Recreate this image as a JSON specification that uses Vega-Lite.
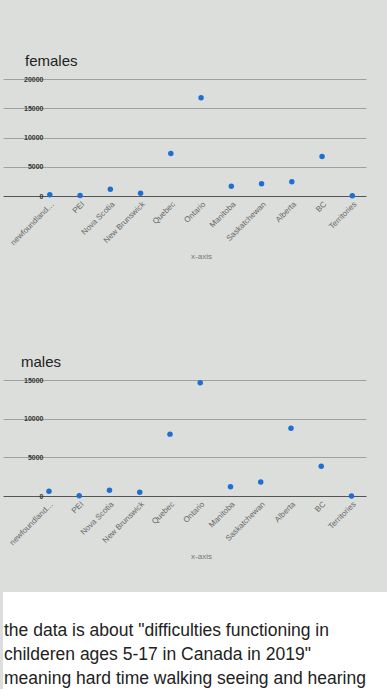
{
  "$schema": "https://vega.github.io/schema/vega-lite/v6.json",
  "background": "#dcdedb",
  "padding": {"left": 3, "top": 54, "right": 0, "bottom": 0},
  "config": {"view": {"stroke": null}, "font": "Liberation Sans"},
  "data": {"values": [
    {"province": "newfoundland and labrador", "females": 200, "males": 600},
    {"province": "PEI", "females": 80, "males": 40},
    {"province": "Nova Scotia", "females": 1150, "males": 750},
    {"province": "New Brunswick", "females": 470, "males": 480},
    {"province": "Quebec", "females": 7250, "males": 8000},
    {"province": "Ontario", "females": 16800, "males": 14650},
    {"province": "Manitoba", "females": 1650, "males": 1200},
    {"province": "Saskatchewan", "females": 2100, "males": 1800},
    {"province": "Alberta", "females": 2450, "males": 8750},
    {"province": "BC", "females": 6750, "males": 3850},
    {"province": "Territories", "females": 40, "males": 0}
  ]},
  "align": "none",
  "spacing": 31,
  "vconcat": [
    {
      "align": "none",
      "spacing": 94,
      "vconcat": [
        {
          "title": {"text": "females", "anchor": "start", "fontSize": 15, "fontWeight": "normal", "color": "#222", "dx": 22, "offset": 6},
          "width": 363,
          "height": 117,
          "mark": {"type": "circle", "size": 30, "opacity": 1, "color": "#1f6fd1"},
          "encoding": {
            "x": {"field": "province", "type": "nominal", "sort": null, "scale": {"type": "point", "padding": 1.3375, "align": 0.774},
              "axis": {"title": "x-axis", "titleX": 198, "labelAngle": -45, "labelFontSize": 8, "labelColor": "#666", "labelLimit": 59, "ticks": false, "domain": false, "grid": false, "titleFontSize": 8, "titleColor": "#777", "titleFontWeight": "normal", "titlePadding": 6, "labelPadding": 4}},
            "y": {"field": "females", "type": "quantitative", "scale": {"domain": [0, 20000]},
              "axis": {"title": null, "values": [0, 5000, 10000, 15000, 20000], "format": "d", "offset": -43, "domain": false, "ticks": false, "labelFontSize": 7, "labelFontWeight": "bold", "labelColor": "#333", "gridColor": {"condition": {"test": "datum.value === 0", "value": "#555"}, "value": "#a0a2a0"}, "labelPadding": 3}}
          }
        },
        {
          "title": {"text": "males", "anchor": "start", "fontSize": 15, "fontWeight": "normal", "color": "#222", "dx": 18, "offset": 6},
          "width": 363,
          "height": 116,
          "mark": {"type": "circle", "size": 30, "opacity": 1, "color": "#1f6fd1"},
          "encoding": {
            "x": {"field": "province", "type": "nominal", "sort": null, "scale": {"type": "point", "padding": 1.3375, "align": 0.76},
              "axis": {"title": "x-axis", "titleX": 198, "labelAngle": -45, "labelFontSize": 8, "labelColor": "#666", "labelLimit": 59, "ticks": false, "domain": false, "grid": false, "titleFontSize": 8, "titleColor": "#777", "titleFontWeight": "normal", "titlePadding": 6, "labelPadding": 4}},
            "y": {"field": "males", "type": "quantitative", "scale": {"domain": [0, 15000]},
              "axis": {"title": null, "values": [0, 5000, 10000, 15000], "format": "d", "offset": -43, "domain": false, "ticks": false, "labelFontSize": 7, "labelFontWeight": "bold", "labelColor": "#333", "gridColor": {"condition": {"test": "datum.value === 0", "value": "#555"}, "value": "#a0a2a0"}, "labelPadding": 3}}
          }
        }
      ]
    },
    {
      "width": 384,
      "height": 97,
      "view": {"fill": "white", "stroke": null},
      "data": {"values": [
        {"line": 1, "text": "the data is about \"difficulties functioning in"},
        {"line": 2, "text": "childeren ages 5-17 in Canada in 2019\""},
        {"line": 3, "text": "meaning hard time  walking seeing and hearing"}
      ]},
      "mark": {"type": "text", "align": "left", "baseline": "middle", "fontSize": 17.5, "color": "#222", "dx": 1},
      "encoding": {
        "x": {"datum": 0, "type": "quantitative", "scale": {"domain": [0, 1]}, "axis": null},
        "y": {"field": "line", "type": "ordinal", "scale": {"type": "point", "padding": 1.02, "align": 0.8}, "axis": null},
        "text": {"field": "text"}
      }
    }
  ]
}
